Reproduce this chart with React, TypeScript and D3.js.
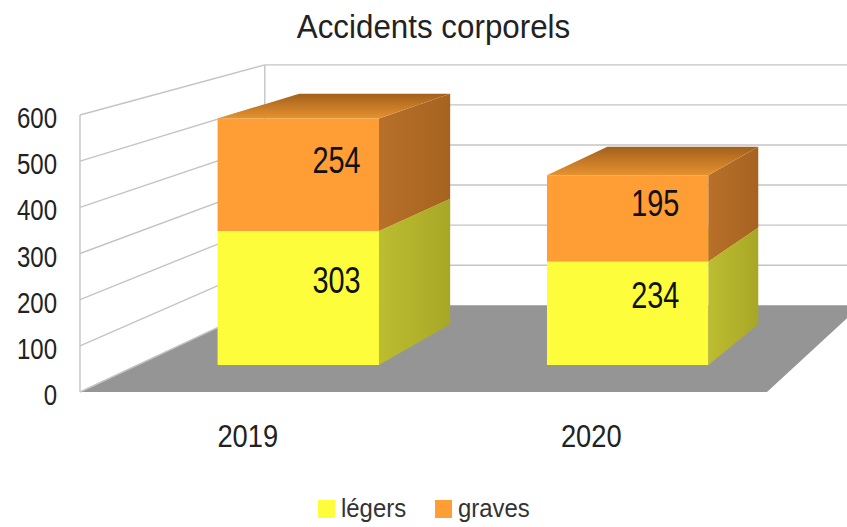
import React from "react";
import * as d3 from "d3";

const title = "Accidents corporels";
const years = ["2019", "2020"];
const legers = [303, 234];
const graves = [254, 195];
const seriesNames = ["légers", "graves"];
const yTicks = [0, 100, 200, 300, 400, 500, 600];

const W = 847;
const H = 527;
const FONT = "'Liberation Sans', Arial, sans-serif";

// vanishing point of the fake 3D view and depths (fraction toward it)
const VP = [1480, -265];
const WALL_DEPTH = 0.132;
const BAR_FRONT = 0.041;
const BAR_BACK = 0.103;

const yFront = d3.scaleLinear().domain([0, 600]).range([392, 115]);
const xFloor = d3.scaleLinear().domain([0, 1]).range([80, 767]);
const xBand = d3.scaleBand<string>().domain(years).range([76, 763]).paddingInner(0.51).paddingOuter(0.255);

function project(x: number, v: number, t: number): [number, number] {
  const y = yFront(v);
  return [x + t * (VP[0] - x), y + t * (VP[1] - y)];
}

const poly = (pts: [number, number][]) => "M" + pts.map((p) => p.join(",")).join("L") + "Z";

const colors = {
  legers: { front: "#FDFD3C", side: ["#BDBD30", "#A7A727"], top: ["#E8E838", "#C9C92E"] },
  graves: { front: "#FE9E35", side: ["#B8702A", "#A6631F"], top: ["#E6922E", "#A2601C"] },
};

function Label(props: { x: number; y: number; size: number; sx: number; anchor: string; children: React.ReactNode; fill?: string }) {
  return (
    <text
      transform={`translate(${props.x},${props.y}) scale(${props.sx},1)`}
      textAnchor={props.anchor}
      fontFamily={FONT}
      fontSize={props.size}
      fill={props.fill || "#222"}
    >
      {props.children}
    </text>
  );
}

export default function App() {
  const stack = years.map((yr, i) => ({
    yr,
    segs: [
      { key: "legers", y0: 0, y1: legers[i], value: legers[i] },
      { key: "graves", y0: legers[i], y1: legers[i] + graves[i], value: graves[i] },
    ],
  }));

  const wallFrontX = xFloor(0);
  const floorPts: [number, number][] = [
    project(xFloor(0), 0, 0),
    project(xFloor(1), 0, 0),
    project(xFloor(1), 0, WALL_DEPTH),
    project(xFloor(0), 0, WALL_DEPTH),
  ];

  return (
    <svg width={W} height={H} style={{ position: "fixed", left: 0, top: 0, background: "#fff" }}>
      <defs>
        {(["legers", "graves"] as const).map((k) => (
          <React.Fragment key={k}>
            <linearGradient id={`side-${k}`} x1="0" y1="0" x2="1" y2="0">
              <stop offset="0" stopColor={colors[k].side[0]} />
              <stop offset="1" stopColor={colors[k].side[1]} />
            </linearGradient>
            <linearGradient id={`top-${k}`} x1="0" y1="1" x2="0" y2="0">
              <stop offset="0" stopColor={colors[k].top[0]} />
              <stop offset="1" stopColor={colors[k].top[1]} />
            </linearGradient>
          </React.Fragment>
        ))}
      </defs>

      <Label x={W / 2 + 10} y={38} size={33} sx={0.95} anchor="middle">{title}</Label>

      {/* floor */}
      <path d={poly(floorPts)} fill="#959595" />

      {/* gridlines on left and back walls */}
      {yTicks.map((v) => {
        const a = project(wallFrontX, v, 0);
        const b = project(wallFrontX, v, WALL_DEPTH);
        return (
          <g key={v} stroke="#c4c4c4" strokeWidth={1.4} fill="none">
            {v > 0 && <line x1={a[0]} y1={a[1]} x2={b[0]} y2={b[1]} />}
            {v > 0 && <line x1={b[0]} y1={b[1]} x2={W} y2={b[1]} />}
          </g>
        );
      })}
      {(() => {
        const fb = project(wallFrontX, 0, 0);
        const ft = project(wallFrontX, 600, 0);
        const bb = project(wallFrontX, 0, WALL_DEPTH);
        const bt = project(wallFrontX, 600, WALL_DEPTH);
        return (
          <g stroke="#c4c4c4" strokeWidth={1.4}>
            <line x1={fb[0]} y1={fb[1]} x2={ft[0]} y2={ft[1]} />
            <line x1={bb[0]} y1={bb[1]} x2={bt[0]} y2={bt[1]} />
            <line x1={fb[0]} y1={fb[1]} x2={bb[0]} y2={bb[1]} />
          </g>
        );
      })()}

      {/* y tick labels */}
      {yTicks.map((v) => (
        <Label key={v} x={57} y={yFront(v) + 13} size={30} sx={0.8} anchor="end">{v}</Label>
      ))}

      {/* bars */}
      {stack.map((bar) => {
        const x0 = xBand(bar.yr)!;
        const x1 = x0 + xBand.bandwidth();
        return (
          <g key={bar.yr}>
            {bar.segs.map((s) => {
              const k = s.key as "legers" | "graves";
              const fbl = project(x0, s.y0, BAR_FRONT);
              const fbr = project(x1, s.y0, BAR_FRONT);
              const ftl = project(x0, s.y1, BAR_FRONT);
              const ftr = project(x1, s.y1, BAR_FRONT);
              const bbr = project(x1, s.y0, BAR_BACK);
              const btl = project(x0, s.y1, BAR_BACK);
              const btr = project(x1, s.y1, BAR_BACK);
              const c = project((x0 + x1) / 2, (s.y0 + s.y1) / 2, (BAR_FRONT + BAR_BACK) / 2);
              return (
                <g key={k}>
                  <path d={poly([fbl, fbr, ftr, ftl])} fill={colors[k].front} />
                  <path d={poly([fbr, bbr, btr, ftr])} fill={`url(#side-${k})`} />
                  <path d={poly([ftl, ftr, btr, btl])} fill={`url(#top-${k})`} />
                  <Label x={c[0]} y={c[1] + 13} size={37} sx={0.78} anchor="middle" fill="#111">{s.value}</Label>
                </g>
              );
            })}
          </g>
        );
      })}

      {/* category labels */}
      {years.map((yr) => (
        <Label key={yr} x={xBand(yr)! + xBand.bandwidth() / 2} y={447} size={31} sx={0.88} anchor="middle">{yr}</Label>
      ))}

      {/* legend */}
      {seriesNames.map((name, i) => {
        const lx = 318 + i * 117;
        const k = i === 0 ? "legers" : "graves";
        return (
          <g key={name}>
            <rect x={lx} y={500} width={17} height={18} fill={colors[k].front} />
            <Label x={lx + 23} y={517} size={26} sx={0.92} anchor="start" fill="#333">{name}</Label>
          </g>
        );
      })}
    </svg>
  );
}
